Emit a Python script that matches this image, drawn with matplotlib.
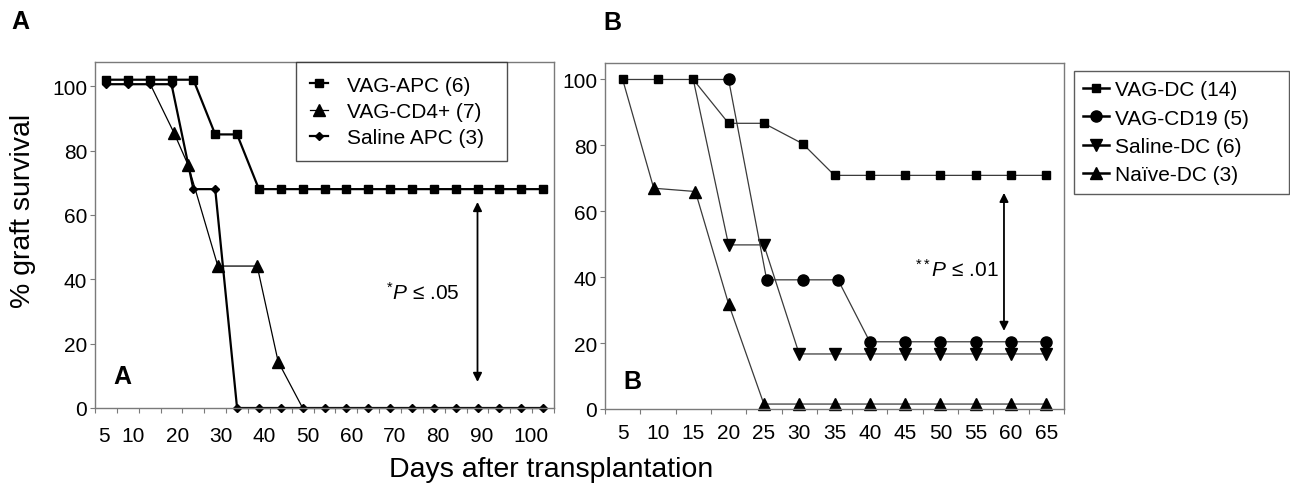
"""
Graft survival curves, two panels (A: APC groups, B: DC groups).
Saves out.png (1290 x 485 px).
"""
import matplotlib
matplotlib.use("Agg")
import matplotlib.pyplot as plt

plt.rcParams["font.family"] = ["Liberation Sans", "DejaVu Sans"]
plt.rcParams["mathtext.fontset"] = "custom"
plt.rcParams["mathtext.rm"] = "Liberation Sans"
plt.rcParams["mathtext.it"] = "Liberation Sans:italic"

W, H = 1290, 485

# ---- panel A data (days, % survival) ----
a_apc_days = [5, 10, 15, 20, 25, 30, 35, 40, 45, 50, 55, 60, 65, 70, 75, 80, 85, 90, 95, 100, 105]
a_apc_surv = [102, 102, 102, 102, 102, 85, 85, 68, 68, 68, 68, 68, 68, 68, 68, 68, 68, 68, 68, 68, 68]
a_cd4_days = [15, 20.6, 23.8, 30.6, 39.6, 44.4, 50]
a_cd4_surv = [101, 85.4, 75.5, 44.1, 44.1, 14.4, 0]
a_sal_days = [5, 10, 15, 20, 25, 30, 35, 40, 45, 50, 55, 60, 65, 70, 75, 80, 85, 90, 95, 100, 105]
a_sal_surv = [100.6, 100.6, 100.6, 100.6, 68, 68, 0, 0, 0, 0, 0, 0, 0, 0, 0, 0, 0, 0, 0, 0, 0]
a_labels = ["5", "10", "20", "30", "40", "50", "60", "70", "80", "90", "100"]
a_label_pos = [4.6, 11.2, 21.3, 31.2, 41.2, 51.1, 61.2, 71.1, 81.0, 91.0, 102.3]

# ---- panel B data ----
b_dc_days = [5, 10, 15, 20, 25, 30.5, 35, 40, 45, 50, 55, 60, 65]
b_dc_surv = [100, 100, 100, 86.7, 86.7, 80.5, 70.9, 70.9, 70.9, 70.9, 70.9, 70.9, 70.9]
b_cd19_days = [15, 20, 25.4, 30.5, 35.5, 40, 45, 50, 55, 60, 65]
b_cd19_surv = [100, 100, 39.2, 39.2, 39.2, 20.4, 20.4, 20.4, 20.4, 20.4, 20.4]
b_sal_days = [15, 20, 25, 30, 35, 40, 45, 50, 55, 60, 65]
b_sal_surv = [100, 49.8, 49.8, 16.7, 16.7, 16.7, 16.7, 16.7, 16.7, 16.7, 16.7]
b_naive_days = [5, 9.4, 15.3, 20, 25, 30, 35, 40, 45, 50, 55, 60, 65]
b_naive_surv = [100, 67, 66, 31.9, 1.5, 1.5, 1.5, 1.5, 1.5, 1.5, 1.5, 1.5, 1.5]
b_ticks = [5, 10, 15, 20, 25, 30, 35, 40, 45, 50, 55, 60, 65]

SPINE = "#7a7a7a"
LINE_B = "#3a3a3a"


def px_axes(l, t, r, b):
    return [l / W, (H - b) / H, (r - l) / W, (b - t) / H]


def style_axes(ax):
    for s in ax.spines.values():
        s.set_color(SPINE)
        s.set_linewidth(1.0)
    ax.tick_params(axis="y", direction="out", length=3.5, width=0.8,
                   color=SPINE, labelsize=15, pad=2)
    ax.tick_params(axis="x", which="major", length=0, labelsize=15)
    ax.tick_params(axis="x", which="minor", direction="out", length=3.5,
                   width=0.8, color=SPINE)
    ax.set_yticks([0, 20, 40, 60, 80, 100])


fig = plt.figure(figsize=(W / 100, H / 100), dpi=100)

# ---------------- panel A ----------------
axA = fig.add_axes(px_axes(95, 63, 554, 409))
axA.set_xlim(2.5, 107.5)
axA.set_ylim(0, 107.5)
style_axes(axA)
axA.set_xticks(a_label_pos, a_labels)
axA.set_xticks([2.5 + 5 * k for k in range(22)], minor=True)
axA.tick_params(axis="x", which="major", pad=13)

lA_sal, = axA.plot(a_sal_days, a_sal_surv, "-", color="black", lw=1.6,
                   marker="D", ms=4.0, mfc="black", mec="black", clip_on=False,
                   label="Saline APC (3)")
lA_cd4, = axA.plot(a_cd4_days, a_cd4_surv, "-", color="black", lw=0.9,
                   marker="^", ms=9, mfc="black", mec="black", clip_on=False,
                   markevery=[1, 2, 3, 4, 5], label="VAG-CD4+ (7)")
lA_apc, = axA.plot(a_apc_days, a_apc_surv, "-", color="black", lw=1.6,
                   marker="s", ms=5.5, mfc="black", mec="black", clip_on=False,
                   label="VAG-APC (6)")

axA.annotate("", xy=(90, 8.1), xytext=(90, 64),
             arrowprops=dict(arrowstyle="<|-|>", color="black", lw=1.3,
                             mutation_scale=13, shrinkA=0, shrinkB=0))
axA.text(85.8, 36, r"$^{*}\mathit{P}$ ≤ .05", ha="right", va="center", fontsize=15)

legA = fig.legend(handles=[lA_apc, lA_cd4, lA_sal],
                  loc="upper left", mode="expand",
                  bbox_to_anchor=(296 / W, 1 - 172 / H, 211 / W, 109 / H),
                  borderaxespad=0, fontsize=15, frameon=True, fancybox=False,
                  handlelength=0.9, handletextpad=0.9, borderpad=0.65,
                  labelspacing=0.35)
legA.get_frame().set_edgecolor("#222222")
legA.get_frame().set_linewidth(1.0)

# ---------------- panel B ----------------
axB = fig.add_axes(px_axes(605, 64, 1064, 410))
axB.set_xlim(2.5, 67.5)
axB.set_ylim(0, 105)
style_axes(axB)
axB.set_xticks(b_ticks, [str(t) for t in b_ticks])
axB.set_xticks([2.5 + 5 * k for k in range(14)], minor=True)
axB.tick_params(axis="x", which="major", pad=10)

lB_naive, = axB.plot(b_naive_days, b_naive_surv, "-", color=LINE_B, lw=0.9,
                     marker="^", ms=9, mfc="black", mec="black", clip_on=False,
                     markevery=slice(1, None), label="Naïve-DC (3)")
lB_sal, = axB.plot(b_sal_days, b_sal_surv, "-", color=LINE_B, lw=0.9,
                   marker="v", ms=9, mfc="black", mec="black", clip_on=False,
                   markevery=slice(1, None), label="Saline-DC (6)")
lB_cd19, = axB.plot(b_cd19_days, b_cd19_surv, "-", color=LINE_B, lw=0.9,
                    marker="o", ms=8, mfc="black", mec="black", clip_on=False,
                    markevery=slice(1, None), label="VAG-CD19 (5)")
lB_dc, = axB.plot(b_dc_days, b_dc_surv, "-", color=LINE_B, lw=0.9,
                  marker="s", ms=6, mfc="black", mec="black", clip_on=False,
                  label="VAG-DC (14)")

axB.annotate("", xy=(59, 23.7), xytext=(59, 65.6),
             arrowprops=dict(arrowstyle="<|-|>", color="black", lw=1.3,
                             mutation_scale=13, shrinkA=0, shrinkB=0))
axB.text(58.3, 42.5, r"$^{**}\mathit{P}$ ≤ .01", ha="right", va="center", fontsize=15)

legB = fig.legend(handles=[lB_dc, lB_cd19, lB_sal, lB_naive],
                  loc="upper left", mode="expand",
                  bbox_to_anchor=(1074 / W, 1 - 213 / H, 215 / W, 141 / H),
                  borderaxespad=0, fontsize=15, frameon=True, fancybox=False,
                  handlelength=1.25, handletextpad=0.25, borderpad=0.45,
                  labelspacing=0.45)
legB.get_frame().set_edgecolor("#333333")
legB.get_frame().set_linewidth(1.0)
for h in legB.legend_handles:
    h.set_linewidth(1.8)
    h.set_color("black")

# ---------------- shared labels ----------------
fig.text(23 / W, 1 - 211 / H, "% graft survival", rotation=90,
         ha="center", va="center", fontsize=20.5)
fig.text(551 / W, 1 - 470 / H, "Days after transplantation",
         ha="center", va="center", fontsize=20.5)

fig.text(20 / W, 1 - 22 / H, "A", ha="center", va="center",
         fontsize=18, fontweight="bold")
fig.text(612 / W, 1 - 23 / H, "B", ha="center", va="center",
         fontsize=18, fontweight="bold")
fig.text(122 / W, 1 - 377 / H, "A", ha="center", va="center",
         fontsize=18, fontweight="bold")
fig.text(632 / W, 1 - 382 / H, "B", ha="center", va="center",
         fontsize=18, fontweight="bold")

fig.savefig("out.png", dpi=100)
plt.close(fig)
